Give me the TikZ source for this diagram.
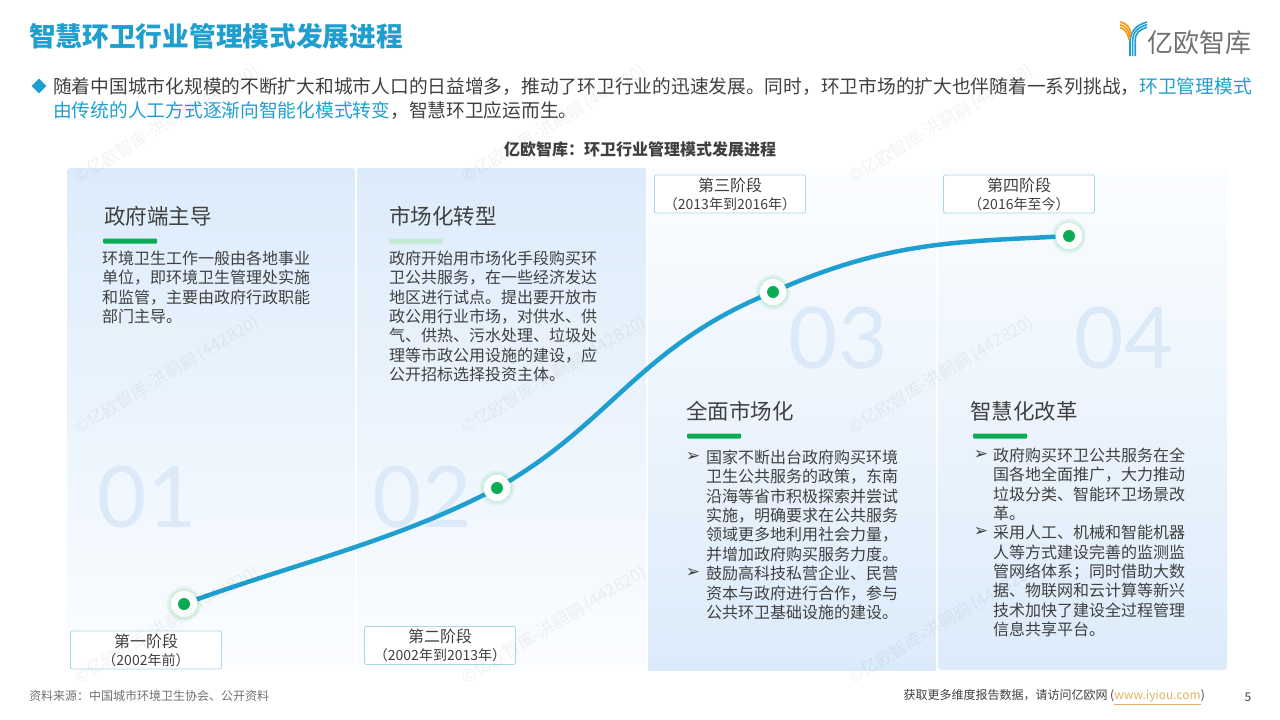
\documentclass[tikz,border=0pt]{standalone}
\usepackage{fontspec}
\setmainfont{Noto Sans CJK SC}
\newfontfamily\numfont{Lato}
\newfontfamily\symfont{DejaVu Sans}
\usetikzlibrary{positioning,shapes.geometric}
\definecolor{brandblue}{HTML}{1F9FCF}
\definecolor{bodygray}{HTML}{404040}
\definecolor{panelblue}{HTML}{DCEBFB}
\definecolor{panelpale}{HTML}{FBFDFF}
\definecolor{numblue}{HTML}{DCE9F9}
\definecolor{barbox}{HTML}{A9D8E6}
\definecolor{dotgreen}{HTML}{0CAB55}
\definecolor{linkgold}{HTML}{E3B25F}
\newcommand{\fsz}[1]{\fontsize{#1}{#1}\selectfont}
\newcommand{\stagedot}[2]{
    \foreach \r in {18,17,16,15}
        \fill[dotgreen, opacity=0.035] (#2) circle (\r);
    \node[dotring] (#1) at (#2) {};
    \node[dotcore] at (#1) {};
}
\begin{document}
\begin{tikzpicture}
            [x=1pt, y=-1pt,
            panel/.style={minimum width=288, minimum height=502, inner sep=0pt, anchor=north west},
            paneldown/.style={panel, top color=panelblue, bottom color=panelpale},
            panelup/.style={panel, top color=panelpale, bottom color=panelblue},
            bignum/.style={text=numblue, font=\numfont\fontsize{85}{85}\selectfont},
            heading/.style={text=bodygray, font=\fsz{21.5}, anchor=west, inner sep=0pt},
            greenbar/.style={fill=dotgreen, rounded corners=1, minimum width=54, minimum height=5, inner sep=0pt, anchor=west},
            bodytext/.style={text=bodygray, font=\fontsize{16}{19.4}\selectfont, align=left, anchor=north west, inner sep=0pt},
            stagebox/.style={draw=barbox, fill=white, line width=0.9, rounded corners=2, minimum width=151, minimum height=38, inner sep=0pt, align=center, text=bodygray, font=\fontsize{16}{18}\selectfont},
            dotring/.style={circle, fill=white, draw=dotgreen!35, densely dotted, line width=0.6, minimum size=27, inner sep=0pt},
            dotcore/.style={circle, fill=dotgreen, minimum size=12, inner sep=0pt},
            mark symbol/.style={text=bodygray, font=\symfont\fontsize{17}{17}\selectfont, inner sep=0pt},
            logostripe/.style={line width=1.6},
            watermark/.style={text=black, opacity=0.05, rotate=31, font=\fsz{17}, inner sep=0pt}]
            \useasboundingbox (0,0) rectangle (1280,720);
            \node[heading, text=brandblue, font=\bfseries\fsz{26.7}] (title) at (29,36) {智慧环卫行业管理模式发展进程};
            \node[diamond, fill=brandblue, minimum size=15, inner sep=0pt] (lead) at (39,86) {};
            \node[bodytext, font=\fontsize{18.73}{24}\selectfont] (intro) at (53,77.5) {随着中国城市化规模的不断扩大和城市人口的日益增多，推动了环卫行业的迅速发展。同时，环卫市场的扩大也伴随着一系列挑战，\textcolor{brandblue}{环卫管理模式}\\
            \textcolor{brandblue}{由传统的人工方式逐渐向智能化模式转变}，智慧环卫应运而生。};
            \node[text=bodygray, font=\bfseries\fsz{16}, inner sep=0pt] (charttitle) at (640,149) {亿欧智库：环卫行业管理模式发展进程};

            \path[top color=panelblue, bottom color=panelpale] (355,168) -- (355,670) -- (67,670) [rounded corners=3] -- (67,168) -- cycle;
            \node[paneldown] (panelb) at (357.5,168) {};
            \node[panelup] (panelc) at (648,168) {};
            \path[top color=panelpale, bottom color=panelblue] (938.5,670) -- (938.5,168) -- (1227,168) [rounded corners=3] -- (1227,670) -- cycle;

            \node[bignum] (numa) at (147,497) {01};
            \node[bignum] (numb) at (422,497) {02};
            \node[bignum] (numc) at (838,338) {03};
            \node[bignum] (numd) at (1124,338) {04};

            \node[heading] (heada) at (104,216) {政府端主导};
            \node[greenbar] (bara) at (103,241) {};
            \node[bodytext] (texta) at (102,250.5) {环境卫生工作一般由各地事业\\单位，即环境卫生管理处实施\\和监管，主要由政府行政职能\\部门主导。};

            \node[heading] (headb) at (389,216) {市场化转型};
            \node[greenbar, fill=dotgreen!25] (barb) at (389,241) {};
            \node[bodytext] (textb) at (389,250.5) {政府开始用市场化手段购买环\\卫公共服务，在一些经济发达\\地区进行试点。提出要开放市\\政公用行业市场，对供水、供\\气、供热、污水处理、垃圾处\\理等市政公用设施的建设，应\\公开招标选择投资主体。};

            \node[heading] (headc) at (686,411) {全面市场化};
            \node[greenbar] (barc) at (687,436) {};
            \node[mark symbol] (markc) at (693,457) {➢};
            \node[bodytext] (textc) at (706,449.5) {国家不断出台政府购买环境\\卫生公共服务的政策，东南\\沿海等省市积极探索并尝试\\实施，明确要求在公共服务\\领域更多地利用社会力量，\\并增加政府购买服务力度。};
            \node[mark symbol] (markcc) at (693,573) {➢};
            \node[bodytext] (textcc) at (706,566) {鼓励高科技私营企业、民营\\资本与政府进行合作，参与\\公共环卫基础设施的建设。};

            \node[heading] (headd) at (970,411) {智慧化改革};
            \node[greenbar] (bard) at (973,436) {};
            \node[mark symbol] (markd) at (981,455) {➢};
            \node[bodytext] (textd) at (993,447.5) {政府购买环卫公共服务在全\\国各地全面推广，大力推动\\垃圾分类、智能环卫场景改\\革。};
            \node[mark symbol] (markdd) at (981,532) {➢};
            \node[bodytext] (textdd) at (993,525) {采用人工、机械和智能机器\\人等方式建设完善的监测监\\管网络体系；同时借助大数\\据、物联网和云计算等新兴\\技术加快了建设全过程管理\\信息共享平台。};

            \coordinate (pa) at (184,604);
            \coordinate (pb) at (497,488);
            \coordinate (pc) at (773,292);
            \coordinate (pd) at (1069,236);
            \draw[brandblue, line width=4.5] (pa) .. controls (290,565) and (400,540) .. (pb)
                .. controls (610,425) and (640,345) .. (pc)
                .. controls (890,240) and (960,242) .. (pd);
            \stagedot{dota}{pa}
            \stagedot{dotb}{pb}
            \stagedot{dotc}{pc}
            \stagedot{dotd}{pd}

            \node[stagebox] (stagea) at (146,650) {第一阶段\\\fsz{14}（2002年前）};
            \node[stagebox] (stageb) at (440,645.5) {第二阶段\\\fsz{14}（2002年到2013年）};
            \node[stagebox] (stagec) at (730,194) {第三阶段\\\fsz{14}（2013年到2016年）};
            \node[stagebox] (staged) at (1019,194) {第四阶段\\\fsz{14}（2016年至今）};

            \foreach \wx in {167,554,941}
                \foreach \wy in {124,375,625}
                    \node[watermark] at (\wx,\wy) {©亿欧智库-洪嗣嗣 (442820)};

            \node[text=bodygray!75, font=\fsz{26}, anchor=west, inner sep=0pt] (logotext) at (1147,43) {亿欧智库};
            \foreach \i in {0,1,2}
                \draw[brandblue, logostripe] ({1130+2.6*\i},56) -- ({1130+2.6*\i},42) .. controls ({1130+2.6*\i},32) and ({1136+1.5*\i},{25+2.6*\i}) .. (1147,{22+2.6*\i});
            \foreach \i in {0,1,2}
                \draw[orange!85!yellow, logostripe] (1120,{22+2.8*\i}) .. controls ({1126-\i},{23+2.8*\i}) and ({1130-\i},{27+2.8*\i}) .. ({1131-\i},{34+2.8*\i});

            \node[text=bodygray!75, font=\fsz{12}, anchor=west, inner sep=0pt] (source) at (29,696) {资料来源：中国城市环境卫生协会、公开资料};
            \node[text=bodygray, font=\fsz{12}, anchor=east, inner sep=0pt] (footer) at (1205,697) {获取更多维度报告数据，请访问亿欧网 (\textcolor{linkgold}{\underline{www.iyiou.com}})};
            \node[text=bodygray, font=\fsz{12}, inner sep=0pt] (page) at (1248,697) {5};
        \end{tikzpicture}
\end{document}
